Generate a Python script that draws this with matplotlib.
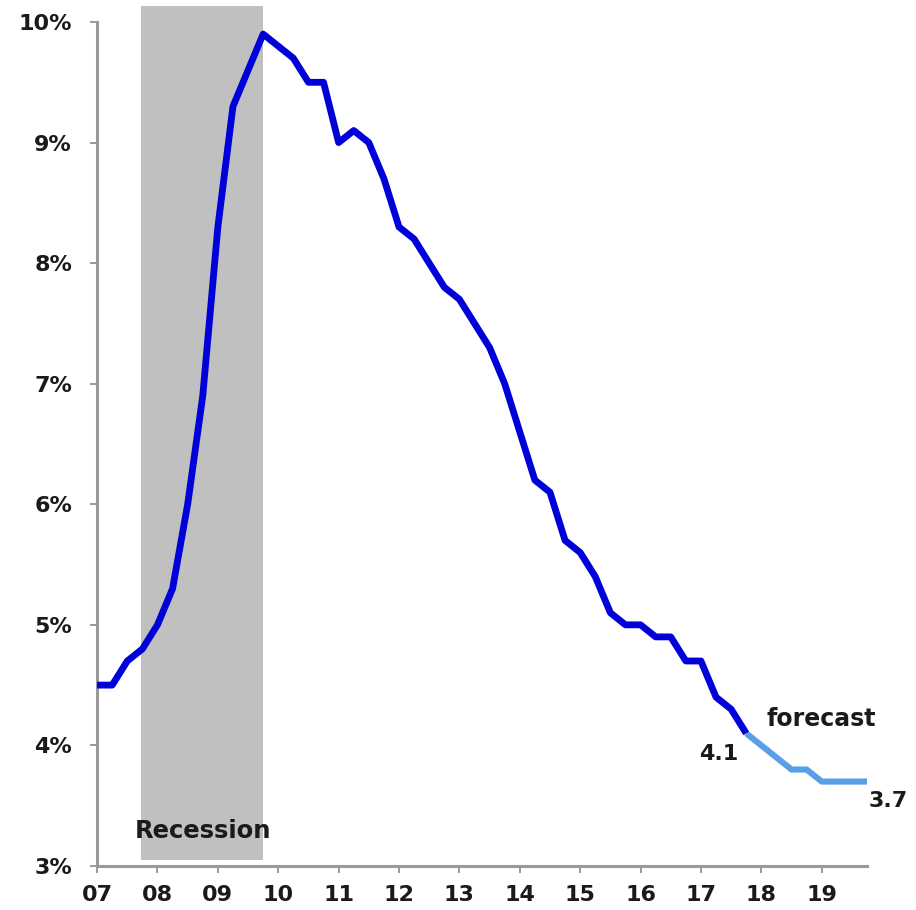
import matplotlib
matplotlib.use("Agg")
import matplotlib.pyplot as plt
import numpy as np

# Quarterly unemployment rate, 2007Q1 .. 2017Q4 (actual)
actual = [4.5, 4.5, 4.7, 4.8,
          5.0, 5.3, 6.0, 6.9,
          8.3, 9.3, 9.6, 9.9,
          9.8, 9.7, 9.5, 9.5,
          9.0, 9.1, 9.0, 8.7,
          8.3, 8.2, 8.0, 7.8,
          7.7, 7.5, 7.3, 7.0,
          6.6, 6.2, 6.1, 5.7,
          5.6, 5.4, 5.1, 5.0,
          5.0, 4.9, 4.9, 4.7,
          4.7, 4.4, 4.3, 4.1]
# Forecast 2017Q4 .. 2019Q4
forecast = [4.1, 4.0, 3.9, 3.8, 3.8, 3.7, 3.7, 3.7, 3.7]
start_year = 2007
recession = (2007.73, 2009.74)
year_ticks = list(range(2007, 2020))
year_labels = ["07", "08", "09", "10", "11", "12", "13", "14", "15", "16", "17", "18", "19"]
y_ticks = [3, 4, 5, 6, 7, 8, 9, 10]
y_labels = ["3%", "4%", "5%", "6%", "7%", "8%", "9%", "10%"]

plt.rcParams['font.family'] = ['DejaVu Sans']

fig = plt.figure(figsize=(9.16, 9.10), dpi=100)
ax = fig.add_axes([0.106, 0.0484, 0.8405, 0.9274])

x_act = start_year + np.arange(len(actual)) / 4.0
x_fc = x_act[-1] + np.arange(len(forecast)) / 4.0

ax.fill_between(list(recession), 3.05, 10.13, color="#C0C0C0", lw=0, clip_on=False, zorder=0)
ax.plot(x_act, actual, color="#0000D8", lw=4.9, solid_joinstyle="round", solid_capstyle="butt", zorder=3, clip_on=False)
ax.plot(x_fc, forecast, color="#5A9EE8", lw=4.4, solid_joinstyle="round", solid_capstyle="butt", zorder=2, clip_on=False)

ax.set_xlim(2007, 2019.75)
ax.set_ylim(3, 10)
ax.set_xticks(year_ticks)
ax.set_xticklabels(year_labels)
ax.set_yticks(y_ticks)
ax.set_yticklabels(y_labels)

for s in ["top", "right"]:
    ax.spines[s].set_visible(False)
for s in ["left", "bottom"]:
    ax.spines[s].set_color("#999999")
    ax.spines[s].set_linewidth(2.2)
ax.tick_params(axis="both", colors="#888888", width=1.2, length=5, labelcolor="#1a1a1a",
               labelsize=16)
ax.tick_params(axis="y", pad=13)
ax.tick_params(axis="x", pad=9)
for lab in ax.get_xticklabels() + ax.get_yticklabels():
    lab.set_fontweight("bold")

ax.text(2008.76, 3.29, "Recession", fontsize=17.5, fontweight="bold", color="#1a1a1a", ha="center", va="center")
ax.text(2018.09, 4.22, "forecast", fontsize=17, fontweight="bold", color="#1a1a1a", ha="left", va="center")
ax.text(2017.62, 3.93, "4.1", fontsize=16, fontweight="bold", color="#1a1a1a", ha="right", va="center")
ax.text(x_fc[-1] + 0.02, 3.54, "3.7", fontsize=16, fontweight="bold", color="#1a1a1a", ha="left", va="center")

fig.savefig("out.png", dpi=100)
